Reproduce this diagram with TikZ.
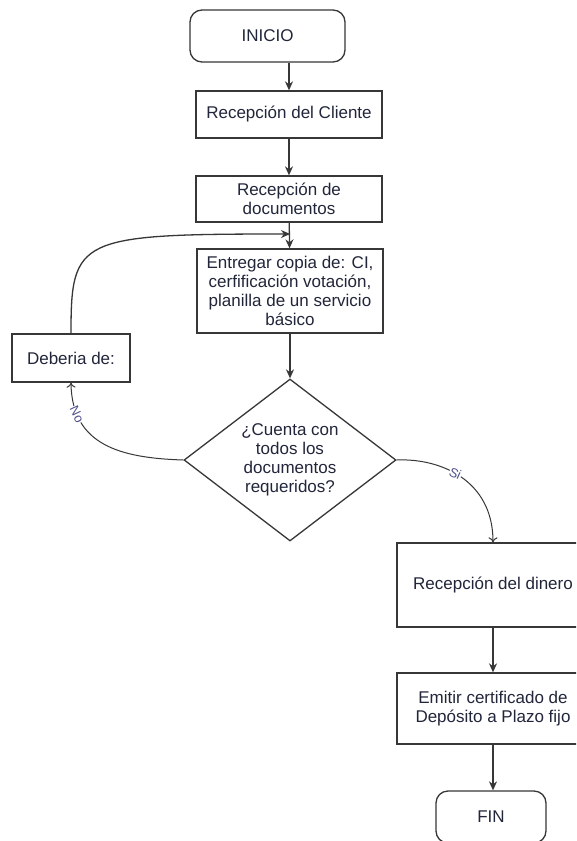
\documentclass[tikz,border=0pt]{standalone}
\usepackage{fontspec}
\setmainfont{Liberation Sans}
\usetikzlibrary{shapes.geometric,arrows.meta}
\definecolor{linea}{RGB}{55,55,55}
\definecolor{texto}{RGB}{34,38,58}
\definecolor{etiq}{RGB}{80,80,140}
\begin{document}
\begin{tikzpicture}[x=1pt,y=-1pt,
	caja/.style={draw=linea,line width=1.3pt,text=texto,align=center,inner sep=2pt,font=\fontsize{17}{19}\selectfont},
	term/.style={caja,rounded corners=12pt},
	decision/.style={caja,diamond,aspect=1.31,inner sep=0pt,minimum width=212pt,minimum height=162pt},
	flecha/.style={draw=linea,line width=1.3pt,-{Stealth[length=9pt,width=8pt]}},
	rama/.style={draw=linea,line width=1pt,-{To[length=5pt,width=9pt]}},
	etiqueta/.style={fill=white,text=etiq,inner sep=0.5pt,font=\fontsize{13}{13}\selectfont}]
		\useasboundingbox (0,0) rectangle (576,841);
		\clip (0,0) rectangle (576,841);
		\fill[white] (0,0) rectangle (576,841);
		\node[term,minimum width=155pt,minimum height=52pt] (inicio) at (267.5,36) {INICIO};
		\node[caja,minimum width=186pt,minimum height=47pt] (cliente) at (289,114.5) {Recepción del Cliente};
		\node[caja,minimum width=186pt,minimum height=46pt] (docs) at (289,199) {Recepción de\\documentos};
		\node[caja,minimum width=186pt,minimum height=84pt] (entrega) at (290,291) {Entregar copia de: CI,\\cerfificación votación,\\planilla de un servicio\\básico};
		\node[caja,minimum width=118pt,minimum height=48pt] (deberia) at (71,358) {Deberia de:};
		\node[decision] (dia) at (290,460) {¿Cuenta con\\todos los\\documentos\\requeridos?};
		\node[caja,minimum width=192pt,minimum height=84pt] (dinero) at (493,585) {Recepción del dinero};
		\node[caja,minimum width=192pt,minimum height=71pt] (emitir) at (493,708.5) {Emitir certificado de\\Depósito a Plazo fijo};
		\node[term,minimum width=110pt,minimum height=52pt] (fin) at (491,817) {FIN};
		\coordinate (union) at (290,234);
		\draw[flecha] (cliente.north |- inicio.south) -- (cliente.north);
		\draw[flecha] (cliente) -- (docs);
		\draw[flecha] (docs) -- (entrega);
		\draw[flecha] (deberia.north) .. controls (71,238) and (78,234) .. (union);
		\draw[flecha] (entrega) -- (dia);
		\draw[rama] (dia.west) .. controls (120,458) and (72,445) .. node[etiqueta,pos=0.8,rotate=-65] {No} (deberia.south);
		\draw[rama] (dia.east) .. controls (440,458) and (493,480) .. node[etiqueta,pos=0.45,rotate=-25] {Si} (dinero.north);
		\draw[flecha] (dinero) -- (emitir);
		\draw[flecha] (emitir.south) -- (emitir.south |- fin.north);
\end{tikzpicture}
\end{document}
